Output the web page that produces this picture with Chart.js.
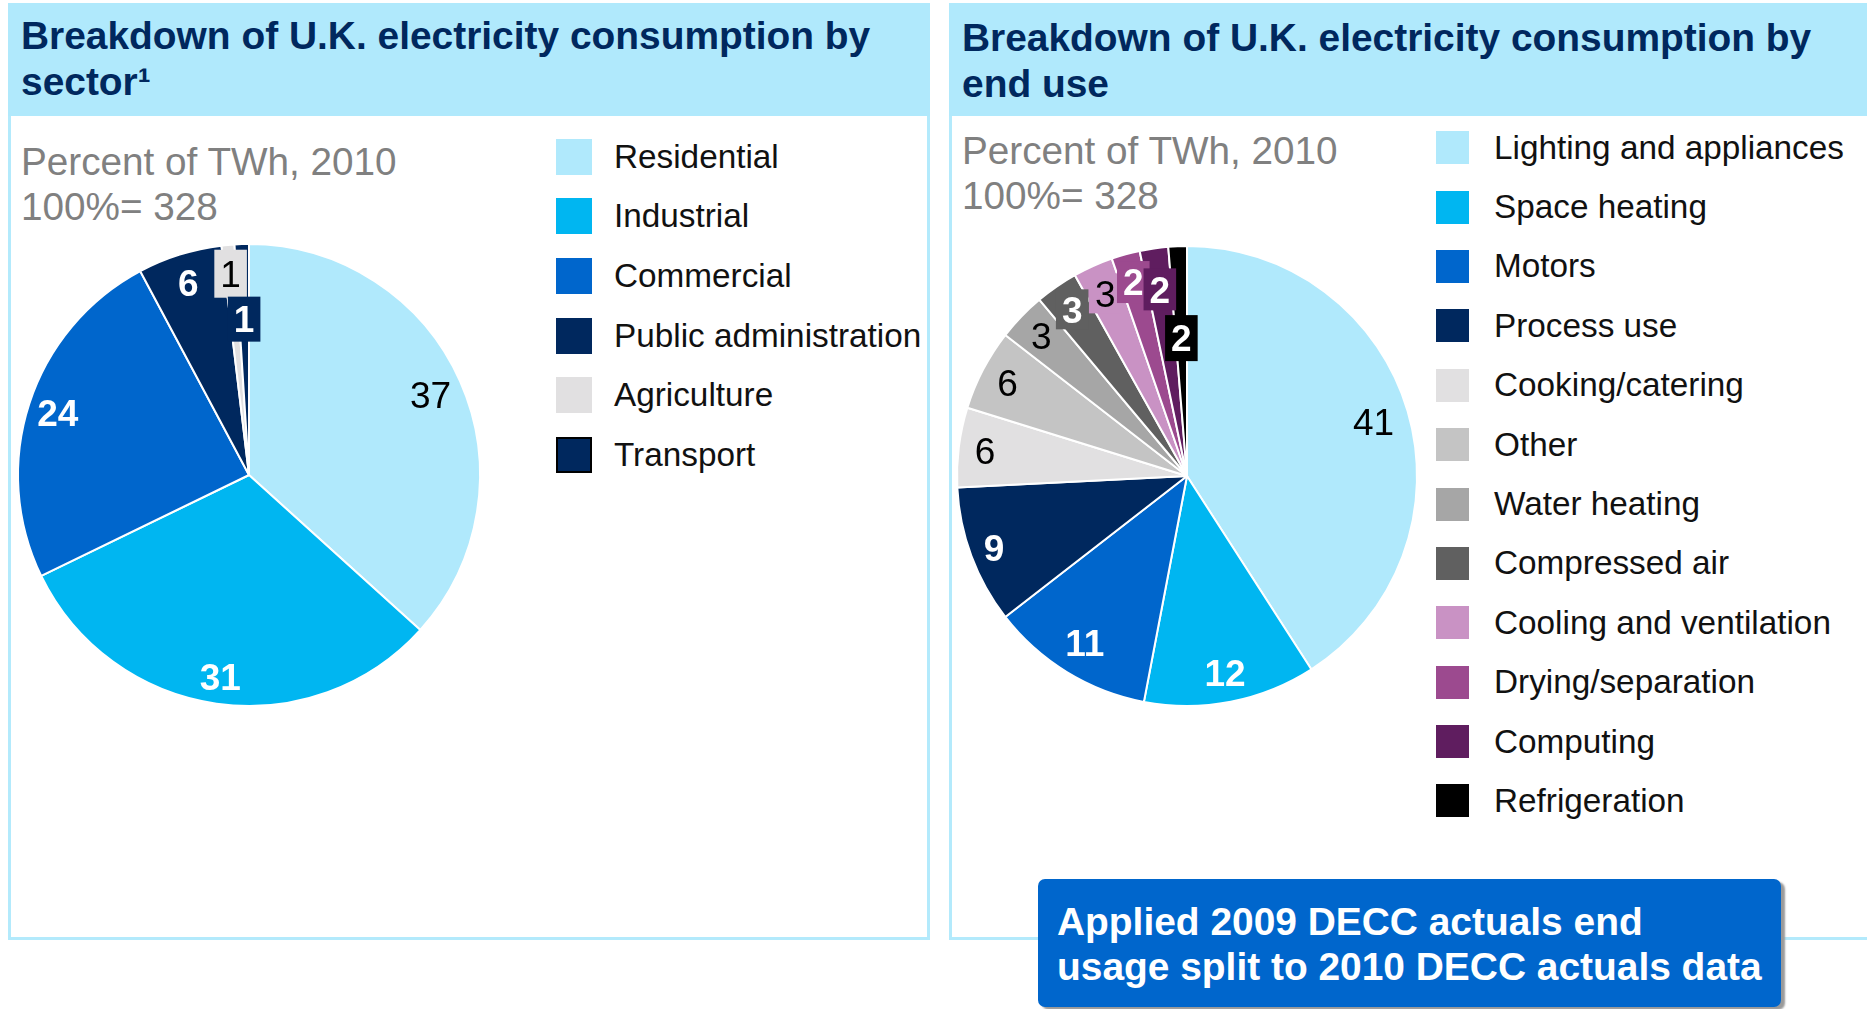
<!DOCTYPE html>
<html>
<head>
<meta charset="utf-8">
<script src="https://cdn.jsdelivr.net/npm/chart.js@4.4.1/dist/chart.umd.min.js"></script>
<style>
  html, body { margin: 0; padding: 0; background: #fff; }
  body { width: 1867px; height: 1009px; position: relative; overflow: hidden;
         font-family: "Liberation Sans", Arial, sans-serif; }
  .panel { position: absolute; box-sizing: border-box; border: 3px solid #b3eafc; background: #fff; }
  .head { position: absolute; left: -3px; right: -3px; top: -3px; height: 113px; background: #b0e9fc; }
  .title { position: absolute; font-weight: bold; font-size: 38.9px; line-height: 46px; color: #00285e; white-space: nowrap; }
  .sub { position: absolute; font-size: 38.7px; line-height: 45px; color: #808080; white-space: nowrap; }
  .legend { position: absolute; }
  .legend .row { display: flex; align-items: center; white-space: nowrap; color: #111; }
  .legend .sw { box-sizing: border-box; flex: none; }
  canvas { position: absolute; }
  #callout { position: absolute; left: 1038px; top: 879px; width: 743px; height: 128px; box-sizing: border-box;
             background: #0066cc; border-radius: 7px; box-shadow: 4px 3px 2px #9a9a9a;
             color: #fff; font-weight: bold; font-size: 38.9px; line-height: 45px; padding: 20px 0 0 19px; white-space: nowrap; }
</style>
</head>
<body>
<div class="panel" style="left:8px; top:3px; width:922px; height:937px;"><div class="head"></div></div>
<div class="panel" style="left:949px; top:3px; width:921px; height:937px;"><div class="head"></div></div>

<div class="title" style="left:21px; top:13px;">Breakdown of U.K. electricity consumption by<br>sector¹</div>
<div class="title" style="left:962px; top:15px;">Breakdown of U.K. electricity consumption by<br>end use</div>

<div class="sub" style="left:21px; top:139px;">Percent of TWh, 2010<br>100%= 328</div>
<div class="sub" style="left:962px; top:128px;">Percent of TWh, 2010<br>100%= 328</div>

<div id="legendSector" class="legend" style="left:556px; top:127px;"></div>
<div id="legendEndUse" class="legend" style="left:1436px; top:118px;"></div>

<canvas id="sectorChart" width="482" height="482" style="left:8px; top:234px;"></canvas>
<canvas id="endUseChart" width="482" height="482" style="left:946px; top:235px;"></canvas>

<div id="callout">Applied 2009 DECC actuals end<br>usage split to 2010 DECC actuals data</div>

<script>
// Data (slice shares, printed labels as shown)
const sectorLabels = ['Residential', 'Industrial', 'Commercial', 'Public administration', 'Agriculture', 'Transport'];
const sectorValues = [36.7, 31.1, 24.4, 5.9, 0.9, 1.0];
const sectorPrinted = ['37', '31', '24', '6', '1', '1'];

const endUseLabels = ['Lighting and appliances', 'Space heating', 'Motors', 'Process use', 'Cooking/catering', 'Other',
    'Water heating', 'Compressed air', 'Cooling and ventilation', 'Drying/separation', 'Computing', 'Refrigeration'];
const endUseValues = [40.9, 12.1, 11.5, 9.7, 5.6, 5.7, 3.4, 3.0, 2.8, 2.0, 2.0, 1.3];
const endUsePrinted = ['41', '12', '11', '9', '6', '6', '3', '3', '3', '2', '2', '2'];

// Styles
const sectorColors = ['#b0e9fc', '#00b6f1', '#0066cc', '#00285e', '#e1e0e1', '#00285e'];
const endUseColors = ['#b0e9fc', '#00b6f1', '#0066cc', '#00285e', '#e1e0e1', '#c4c4c4',
    '#a6a6a6', '#606060', '#c992c4', '#9c4a8f', '#5f1d5f', '#000000'];

// label style per slice: radius fraction, text colour, bold, box colour
const sectorLabelStyle = [
    { r: 0.86, c: '#000', b: false },
    { r: 0.88, c: '#fff', b: true },
    { r: 0.87, c: '#fff', b: true },
    { r: 0.875, c: '#fff', b: true },
    { r: 0.875, c: '#000', b: false, box: '#e1e0e1', h: 48 },
    { r: 0.675, c: '#fff', b: true, box: '#00285e', h: 45 }
];
const endUseLabelStyle = [
    { r: 0.845, c: '#000', b: false },
    { r: 0.87, c: '#fff', b: true },
    { r: 0.85, c: '#fff', b: true },
    { r: 0.895, c: '#fff', b: true },
    { r: 0.885, c: '#000', b: false },
    { r: 0.88, c: '#000', b: false },
    { r: 0.88, c: '#000', b: false },
    { r: 0.88, c: '#fff', b: true, box: '#606060', h: 40 },
    { r: 0.87, c: '#000', b: false, box: '#c992c4', h: 40 },
    { r: 0.875, c: '#fff', b: true, box: '#9c4a8f', h: 42 },
    { r: 0.82, c: '#fff', b: true, box: '#5f1d5f', h: 42 },
    { r: 0.6, c: '#fff', b: true, box: '#000000', h: 46 }
];

// Build a html legend
function buildLegend(id, labels, colors, opts) {
    const el = document.getElementById(id);
    labels.forEach((label, i) => {
        const row = document.createElement('div');
        row.className = 'row';
        row.style.height = opts.pitch + 'px';
        row.style.fontSize = opts.font + 'px';
        const sw = document.createElement('div');
        sw.className = 'sw';
        sw.style.width = opts.box + 'px';
        sw.style.height = opts.box + 'px';
        sw.style.background = colors[i];
        if (opts.outline && opts.outline[i]) sw.style.border = '2px solid #000';
        sw.style.marginRight = opts.gap + 'px';
        row.appendChild(sw);
        row.appendChild(document.createTextNode(label));
        el.appendChild(row);
    });
}

buildLegend('legendSector', sectorLabels, sectorColors, { pitch: 59.6, font: 33.3, box: 36, gap: 22, outline: [0, 0, 0, 0, 0, 1] });
buildLegend('legendEndUse', endUseLabels, endUseColors, { pitch: 59.4, font: 33.3, box: 33, gap: 25 });

// Value labels on the slices
const sliceLabels = {
    id: 'sliceLabels',
    afterDatasetsDraw(chart, args, pluginOpts) {
        const ctx = chart.ctx;
        const meta = chart.getDatasetMeta(0);
        const fs = 37;
        meta.data.forEach((arc, i) => {
            const st = pluginOpts.styles[i];
            const p = arc.getProps(['x', 'y', 'startAngle', 'endAngle', 'outerRadius'], true);
            const mid = (p.startAngle + p.endAngle) / 2;
            const x = p.x + Math.cos(mid) * p.outerRadius * st.r;
            const y = p.y + Math.sin(mid) * p.outerRadius * st.r;
            const txt = pluginOpts.texts[i];
            ctx.save();
            ctx.font = (st.b ? 'bold ' : '') + fs + 'px "Liberation Sans", Arial, sans-serif';
            const w = ctx.measureText(txt).width;
            if (st.box) {
                ctx.fillStyle = st.box;
                ctx.fillRect(x - w / 2 - 6, y - st.h / 2, w + 12, st.h);
            }
            ctx.fillStyle = st.c;
            ctx.textAlign = 'center';
            ctx.textBaseline = 'alphabetic';
            ctx.fillText(txt, x, y + fs * 0.36);
            ctx.restore();
        });
    }
};

function pieOptions(radius, styles, texts) {
    return {
        responsive: false,
        animation: false,
        radius: radius,
        layout: { padding: 0 },
        plugins: {
            legend: { display: false },
            tooltip: { enabled: false },
            sliceLabels: { styles: styles, texts: texts }
        }
    };
}

new Chart(document.getElementById('sectorChart'), {
    type: 'pie',
    data: {
        labels: sectorLabels,
        datasets: [{ data: sectorValues, backgroundColor: sectorColors, borderColor: '#fff', borderWidth: 2 }]
    },
    options: pieOptions(231, sectorLabelStyle, sectorPrinted),
    plugins: [sliceLabels]
});

new Chart(document.getElementById('endUseChart'), {
    type: 'pie',
    data: {
        labels: endUseLabels,
        datasets: [{ data: endUseValues, backgroundColor: endUseColors, borderColor: '#fff', borderWidth: 2 }]
    },
    options: pieOptions(230, endUseLabelStyle, endUsePrinted),
    plugins: [sliceLabels]
});
</script>
</body>
</html>
